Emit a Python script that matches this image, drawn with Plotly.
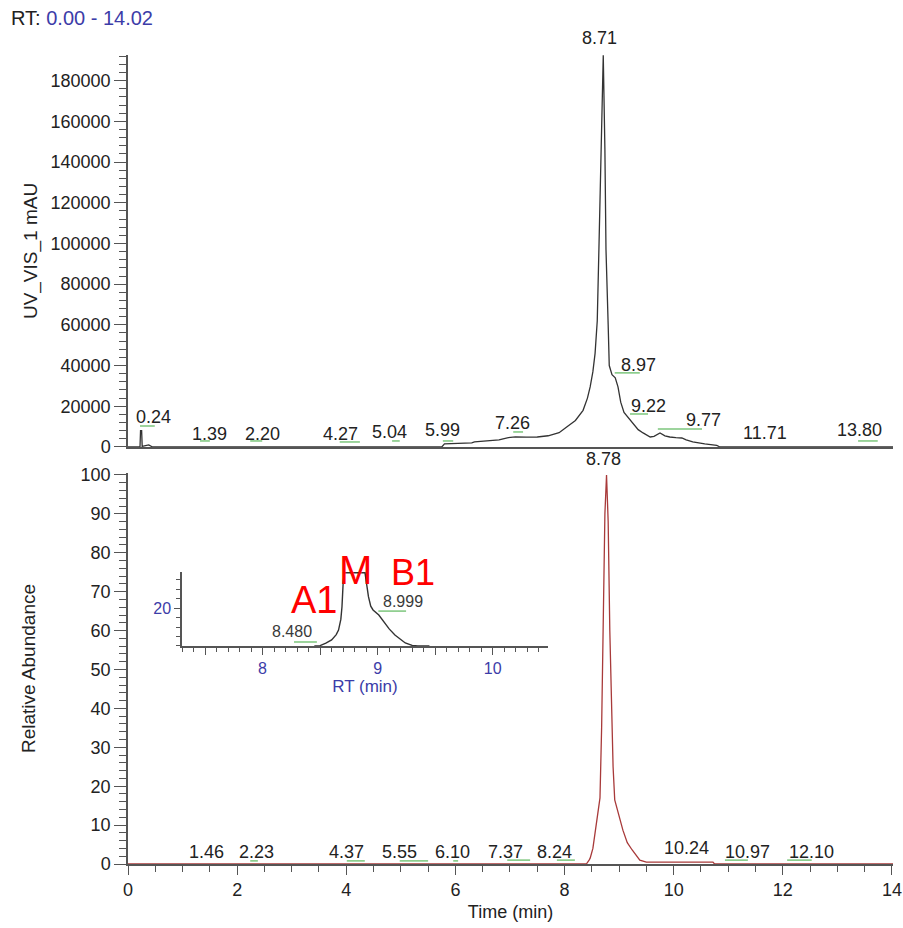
import plotly.graph_objects as go

# ---------------- data ----------------
# Top panel: UV_VIS_1 chromatogram (time in min, signal in mAU)
uv_time = [0.00, 0.22, 0.23, 0.25, 0.26, 0.33, 0.38, 0.45, 5.75, 5.80, 6.30, 6.35, 6.80, 6.95,
           7.10, 7.30, 7.50, 7.70, 7.90, 8.04, 8.20, 8.34, 8.42, 8.47, 8.52, 8.56, 8.60, 8.63,
           8.67, 8.71, 8.74, 8.76, 8.80, 8.82, 8.87, 8.93, 8.98, 9.03, 9.09, 9.16, 9.25, 9.35,
           9.44, 9.57, 9.64, 9.75, 9.84, 9.93, 10.04, 10.15, 10.23, 10.35, 10.57, 10.79, 10.85,
           14.02]
uv_signal = [0, 0, 8000, 8000, 300, 900, 1000, 0, 0, 1500, 2000, 2500, 3500, 4500,
             5000, 4800, 4900, 5500, 7000, 9800, 13000, 18000, 24000, 29500, 37000, 46000, 62000, 97000,
             146000, 192500, 146000, 97000, 60000, 40000, 35500, 34000, 29500, 22000, 17000, 14700, 11800, 8500,
             6900, 4900, 5200, 6900, 5500, 4900, 4600, 4400, 3500, 2500, 1500, 800, 0,
             0]

# Bottom panel: relative abundance (%)
ms_time = [0.00, 8.40, 8.45, 8.47, 8.52, 8.56, 8.62, 8.65, 8.68, 8.71, 8.74, 8.77, 8.80, 8.83,
           8.86, 8.89, 8.92, 9.00, 9.07, 9.15, 9.24, 9.38, 9.50, 10.72, 10.75, 14.02]
ms_abund = [0, 0, 1, 1.5, 4, 8, 14, 17, 35, 65, 90, 100, 88, 60,
            40, 25, 16.5, 12, 8.7, 5.5, 3.6, 1, 0.5, 0.5, 0, 0]

# Inset: zoom of the main peak (flat top = off-scale in the zoomed view)
inset_time = [8.45, 8.50, 8.55, 8.60, 8.64, 8.66, 8.68, 8.69, 8.70, 8.71, 8.89, 8.90, 8.92,
              8.94, 8.96, 9.01, 9.06, 9.10, 9.15, 9.20, 9.24, 9.30, 9.35, 9.45]
inset_abund = [0, 0.2, 1.5, 3.2, 6, 8.4, 14, 20.7, 33, 38.6, 38.6, 34, 26,
               21, 19, 16.3, 12, 9, 5.8, 3.2, 1.6, 0.3, 0, 0]

# Peak labels (text, label x, label y)
top_lbl_text = ["0.24", "1.39", "2.20", "4.27", "5.04", "5.99", "7.26", "8.97", "9.22", "9.77", "11.71", "13.80"]
top_lbl_x = [0.46, 1.50, 2.46, 3.89, 4.80, 5.77, 7.04, 9.36, 9.53, 10.54, 11.67, 13.40]
top_lbl_y = [14700, 6400, 6400, 6400, 7400, 8350, 11800, 40300, 20150, 13270, 6900, 8350]
top_apex_text, top_apex_x, top_apex_frac = "8.71", 8.65, 1.043   # drawn above the axis top
# green integration marks under labels (start, end, level)
top_mark_x0 = [0.22, 1.32, 2.24, 3.88, 4.84, 5.77, 7.06, 8.92, 9.20, 9.71, 13.38]
top_mark_x1 = [0.49, 1.50, 2.46, 4.25, 4.98, 5.96, 7.24, 9.38, 9.53, 10.52, 13.74]
top_mark_y = [10300, 2950, 2950, 2450, 2950, 2950, 7370, 36400, 16200, 8850, 2950]

bot_lbl_text = ["1.46", "2.23", "4.37", "5.55", "6.10", "7.37", "8.24", "10.24", "10.97", "12.10"]
bot_lbl_x = [1.43, 2.36, 4.00, 4.97, 5.94, 6.91, 7.81, 10.23, 11.36, 12.52]
bot_lbl_y = [3.1, 3.1, 3.1, 3.1, 3.1, 3.1, 3.1, 4.1, 3.1, 3.1]
bot_apex_text, bot_apex_x, bot_apex_frac = "8.78", 8.71, 1.036
bot_mark_x0 = [2.24, 4.01, 4.98, 5.96, 6.95, 7.86, 10.94, 12.08]
bot_mark_x1 = [2.38, 4.34, 5.50, 6.05, 7.37, 8.19, 11.36, 12.53]
bot_mark_y = [0.8, 0.8, 0.8, 0.8, 1.0, 1.0, 1.0, 1.0]

ins_lbl_text = ["8.480", "8.999"]
ins_lbl_x = [8.256, 9.222]
ins_lbl_y = [7.4, 23.2]
ins_mark_x0 = [8.273, 9.006]
ins_mark_x1 = [8.472, 9.247]
ins_mark_y = [2.1, 18.4]

fraction_text = ["A1", "M", "B1"]
fraction_x = [8.45, 8.81, 9.31]
fraction_frac = [0.62, 1.03, 0.99]   # vertical position within the inset axis height
fraction_size = [38, 40, 36]

# ---------------- figure ----------------
FONT = "Liberation Sans, Arial, sans-serif"
TXT = "#222222"
AX = "#555555"
GREEN = "#7cc67c"
BLUE = "#3c3ca8"
LBL = 18

fig = go.Figure()

fig.add_trace(go.Scatter(x=uv_time, y=uv_signal, mode="lines", xaxis="x", yaxis="y",
                         line=dict(color="#333333", width=1.3), hoverinfo="skip"))
fig.add_trace(go.Scatter(x=ms_time, y=ms_abund, mode="lines", xaxis="x2", yaxis="y2",
                         line=dict(color="#a83a3a", width=1.3), hoverinfo="skip"))
fig.add_trace(go.Scatter(x=inset_time, y=inset_abund, mode="lines", xaxis="x3", yaxis="y3",
                         line=dict(color="#333333", width=1.4), hoverinfo="skip"))

def add_marks(x0s, x1s, ys, xa, ya):
    xs, yv = [], []
    for a, b, c in zip(x0s, x1s, ys):
        xs += [a, b, None]
        yv += [c, c, None]
    fig.add_trace(go.Scatter(x=xs, y=yv, mode="lines", xaxis=xa, yaxis=ya,
                             line=dict(color=GREEN, width=1.5), hoverinfo="skip"))

add_marks(top_mark_x0, top_mark_x1, top_mark_y, "x", "y")
add_marks(bot_mark_x0, bot_mark_x1, bot_mark_y, "x2", "y2")
add_marks(ins_mark_x0, ins_mark_x1, ins_mark_y, "x3", "y3")

annotations = []
def ann(**kw):
    kw.setdefault("showarrow", False)
    kw.setdefault("xanchor", "center")
    kw.setdefault("yanchor", "middle")
    annotations.append(kw)

for t, x, y in zip(top_lbl_text, top_lbl_x, top_lbl_y):
    ann(x=x, y=y, xref="x", yref="y", text=t, font=dict(family=FONT, size=LBL, color=TXT))
ann(x=top_apex_x, y=top_apex_frac, xref="x", yref="y domain", text=top_apex_text,
    font=dict(family=FONT, size=LBL, color=TXT))
for t, x, y in zip(bot_lbl_text, bot_lbl_x, bot_lbl_y):
    ann(x=x, y=y, xref="x2", yref="y2", text=t, font=dict(family=FONT, size=LBL, color=TXT))
ann(x=bot_apex_x, y=bot_apex_frac, xref="x2", yref="y2 domain", text=bot_apex_text,
    font=dict(family=FONT, size=LBL, color=TXT))
for t, x, y in zip(ins_lbl_text, ins_lbl_x, ins_lbl_y):
    ann(x=x, y=y, xref="x3", yref="y3", text=t, font=dict(family=FONT, size=16, color="#3a3a3a"))
for t, x, y, s in zip(fraction_text, fraction_x, fraction_frac, fraction_size):
    ann(x=x, y=y, xref="x3", yref="y3 domain", text=t, font=dict(family=FONT, size=s, color="#ff0000"))
ann(x=-0.1556, y=1.0457, xref="paper", yref="paper", xanchor="left",
    text="RT: <span style='color:%s'>0.00 - 14.02</span>" % BLUE,
    font=dict(family=FONT, size=20, color=TXT))

axis_common = dict(showgrid=False, zeroline=False, showline=True, linecolor=AX, linewidth=1.5,
                   ticks="outside", tickcolor=AX, automargin=False,
                   tickfont=dict(family=FONT, size=18, color=TXT))

fig.update_layout(
    width=903, height=928,
    margin=dict(l=128, r=10, t=55, b=64),
    paper_bgcolor="white", plot_bgcolor="white",
    showlegend=False,
    annotations=annotations,
    xaxis=dict(domain=[0, 1], range=[0, 14.02], anchor="y", showgrid=False, zeroline=False,
               showline=True, linecolor=AX, linewidth=2, ticks="", showticklabels=False,
               automargin=False),
    yaxis=dict(domain=[0.5155, 1.0], range=[0, 192600], anchor="x", tickvals=list(range(0, 180001, 20000)),
               tickformat="d", ticklen=12, tickwidth=1.2,
               minor=dict(dtick=4000, ticklen=7, tickcolor=AX, ticks="outside"),
               title=dict(text="UV_VIS_1 mAU", font=dict(family=FONT, size=19, color=TXT), standoff=8),
               **axis_common),
    xaxis2=dict(domain=[0, 1], range=[0, 14.02], anchor="y2", tickvals=list(range(0, 15, 2)),
                ticklen=9, tickwidth=1.2,
                minor=dict(dtick=0.5, ticklen=6, tickcolor=AX, ticks="outside"),
                title=dict(text="Time (min)", font=dict(family=FONT, size=18, color=TXT), standoff=6),
                **axis_common),
    yaxis2=dict(domain=[0, 0.4833], range=[0, 100.5], anchor="x2", tickvals=list(range(0, 101, 10)),
                ticklen=12, tickwidth=1.2,
                minor=dict(dtick=2, ticklen=7, tickcolor=AX, ticks="outside"),
                title=dict(text="Relative Abundance", font=dict(family=FONT, size=19, color=TXT), standoff=40),
                **axis_common),
    xaxis3=dict(domain=[0.0706, 0.549], range=[7.3, 10.48], anchor="y3",
                tickvals=[7.5, 8, 8.5, 9, 9.5, 10], ticktext=["", "8", "", "9", "", "10"],
                ticklen=7, tickwidth=1.2, automargin=False,
                minor=dict(dtick=0.1, ticklen=4, tickcolor=AX, ticks="outside"),
                title=dict(text="RT (min)", font=dict(family=FONT, size=17, color=BLUE), standoff=4),
                showgrid=False, zeroline=False, showline=True, linecolor=AX, linewidth=1.5,
                ticks="outside", tickcolor=AX, tickfont=dict(family=FONT, size=16, color=BLUE)),
    yaxis3=dict(domain=[0.2695, 0.3609], range=[0, 39], anchor="x3",
                tickvals=[20], ticklen=6, tickwidth=1.2, automargin=False,
                minor=dict(dtick=5, ticklen=4, tickcolor=AX, ticks="outside"),
                showgrid=False, zeroline=False, showline=True, linecolor=AX, linewidth=1.5,
                ticks="outside", tickcolor=AX, tickfont=dict(family=FONT, size=16, color=BLUE)),
)

fig.write_html("out.html")
